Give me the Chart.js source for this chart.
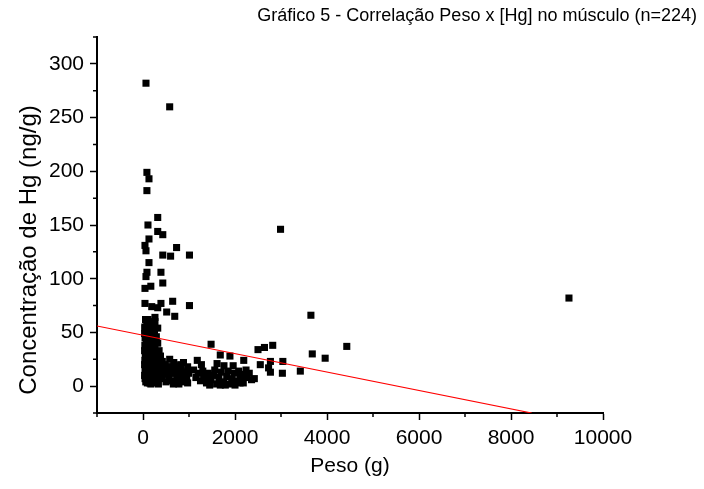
<!DOCTYPE html>
<html>
<head>
<meta charset="utf-8">
<script src="https://cdn.jsdelivr.net/npm/chart.js@4.4.0/dist/chart.umd.min.js"></script>
<style>
  body { margin: 0; background: #fff; }
  #wrap { width: 704px; height: 489px; }
</style>
</head>
<body>
<div id="wrap"><canvas id="chart1"></canvas></div>
<script>
// Peso (g) x concentração de Hg (ng/g)
const pesoG = [
  65, 580, 85, 130, 85, 320, 108, 320, 430, 130, 43, 65, 730, 430, 600, 1010, 130, 86, 390, 430,
  65, 43, 170, 43, 190, 390, 645, 515, 690, 1010, 320, 260, 110, 43, 320, 2990, 3650, 9260, 4430, 3680,
  3960, 3420, 3040, 3030, 2820, 2640, 2500, 2770, 2730, 2550, 2770, 2420, 2240, 2190, 2110, 1890, 1680, 1480, 1610, 1760,
  1960, 1790, 1270, 1180, 970, 970, 820, 670,
  // aglomerado 0-500 g
  40, 60, 90, 120, 150, 200, 250, 45, 70, 100, 140, 180, 230, 290,
  40, 65, 95, 130, 170, 210, 260, 320, 50, 80, 110, 150, 190, 240, 300, 350,
  40, 70, 100, 130, 160, 200, 250, 290, 340, 380, 45, 75, 105, 140, 175, 220, 270, 320, 370, 420,
  50, 80, 115, 150, 185, 230, 280, 330, 390, 440, 60, 95, 130, 170, 210, 260, 310, 360, 410, 470,
  55, 85, 130, 35, 35, 35, 35, 55, 90, 120, 160, 200, 240, 280, 310, 260, 180,
  75, 110, 45, 140, 165, 195, 225, 270, 335, 145, 100, 210,
  // 500-1000 g
  480, 520, 560, 600, 640, 680, 720, 760, 800, 850, 900, 950, 500, 580, 620, 700, 740, 780, 830, 880,
  930, 990, 540, 660, 720,
  // 1100-2400 g
  1150, 1200, 1250, 1320, 1380, 1420, 1480, 1540, 1600, 1650, 1700, 1750, 1820, 1880, 1930, 1990, 2050, 2120, 2180, 2250,
  2310, 2360, 1300, 1450, 1560, 1680, 1850, 2000, 2080, 2200, 1100, 1400
];
const hgNgG = [
  282, 260, 199, 193, 182, 157, 150, 144, 141, 137, 131, 126, 129, 122, 121, 122, 115, 106, 106, 96,
  102, 91, 93, 77, 74, 77, 79, 69, 65, 75, 73, 64, 62, 54, 54, 146, 66, 82, 37, 30,
  26, 14, 23, 12, 38, 36, 34, 23, 17, 20, 13, 7, 15, 24, 3, 28, 29, 39, 21, 19,
  19, 1, 20, 24, 18, 3, 20, 22,
  55, 50, 57, 52, 48, 55, 50, 45, 42, 46, 40, 44, 42, 46,
  38, 35, 38, 33, 36, 32, 37, 40, 30, 28, 31, 27, 29, 25, 30, 33,
  24, 22, 20, 23, 19, 22, 18, 21, 24, 28, 16, 14, 17, 13, 15, 12, 14, 16, 19, 23,
  10, 8, 11, 7, 9, 6, 9, 11, 13, 16, 4, 3, 5, 2, 4, 3, 5, 7, 9, 11,
  62, 60, 60, 49, 33, 20, 10, 20, 25, 18, 31, 38, 45, 26, 20, 60, 58,
  48, 40, 7, 50, 12, 46, 28, 8, 2, 3, 52, 16,
  20, 14, 8, 18, 5, 12, 3, 16, 9, 4, 13, 7, 4, 25, 12, 19, 8, 2, 14, 22,
  10, 12, 18, 2, 15,
  8, 12, 5, 9, 3, 12, 6, 10, 2, 8, 13, 4, 9, 2, 7, 12, 5, 9, 3, 8,
  12, 6, 14, 1, 15, 1, 14, 1, 14, 11, 15, 7
];

// reta de regressão (extremos)
const regX = [-1000, 8450];
const regY = [56, -25];

const chartTitle = "Gráfico 5 - Correlação Peso x [Hg] no músculo (n=224)";
const xTitle = "Peso (g)";
const yTitle = "Concentração de Hg (ng/g)";

const font = "'Liberation Sans', Arial, sans-serif";

const points = pesoG.map((p, i) => ({ x: p, y: hgNgG[i] }));
const regLine = regX.map((p, i) => ({ x: p, y: regY[i] }));

// minor ticks are shorter, drawn by hand on the scales
const minorTicks = {
  id: "minorTicks",
  afterDraw(chart) {
    const { ctx, scales: { x, y } } = chart;
    ctx.save();
    ctx.strokeStyle = "#000";
    ctx.lineWidth = 1.5;
    ctx.beginPath();
    x.ticks.forEach((t) => {
      if (t.value % 2000 !== 0) {
        const px = x.getPixelForValue(t.value);
        ctx.moveTo(px, x.top);
        ctx.lineTo(px, x.top + 4);
      }
    });
    y.ticks.forEach((t) => {
      if (t.value % 50 !== 0) {
        const py = y.getPixelForValue(t.value);
        ctx.moveTo(y.right, py);
        ctx.lineTo(y.right - 4, py);
      }
    });
    ctx.stroke();
    ctx.restore();
  },
};

// chart title and y title sit off-centre in the original, so drawn here
const textLabels = {
  id: "textLabels",
  afterDraw(chart) {
    const ctx = chart.ctx;
    ctx.save();
    ctx.fillStyle = "#000";
    ctx.font = "18px " + font;
    ctx.textAlign = "right";
    ctx.textBaseline = "alphabetic";
    ctx.fillText(chartTitle, 697, 21);

    ctx.translate(29, 250);
    ctx.rotate(-Math.PI / 2);
    ctx.font = "24px " + font;
    ctx.textAlign = "center";
    ctx.textBaseline = "middle";
    ctx.fillText(yTitle, 0, 0);
    ctx.restore();
  },
};

const config1 = {
  type: "scatter",
  data: {
    datasets: [
      {
        label: "regressão",
        data: regLine,
        showLine: true,
        borderColor: "#ff0000",
        borderWidth: 1.2,
        pointRadius: 0,
        order: 0,
      },
      {
        label: "Hg",
        data: points,
        pointStyle: "rect",
        pointRadius: 5,
        pointHoverRadius: 5,
        backgroundColor: "#000",
        borderWidth: 0,
        order: 1,
      },
    ],
  },
  options: {
    responsive: true,
    maintainAspectRatio: false,
    animation: false,
    events: [],
    layout: {
      padding: { top: 37, right: 101, bottom: 0, left: 0 },
    },
    plugins: {
      legend: { display: false },
      tooltip: { enabled: false },
      title: { display: false },
    },
    scales: {
      x: {
        type: "linear",
        min: -1000,
        max: 10000,
        afterFit: (s) => { s.height = 76; },
        ticks: {
          stepSize: 1000,
          padding: 6,
          color: "#000",
          font: { family: font, size: 21 },
          callback: (v) => (v % 2000 === 0 ? String(v) : ""),
          maxRotation: 0,
          autoSkip: false,
        },
        grid: {
          drawOnChartArea: false,
          tickLength: 7,
          tickWidth: 1.5,
          tickColor: (c) => (c.tick && c.tick.value % 2000 === 0 ? "#000" : "rgba(0,0,0,0)"),
        },
        border: { display: true, color: "#000", width: 2 },
        title: {
          display: true,
          text: xTitle,
          color: "#000",
          font: { family: font, size: 21 },
          padding: { top: 0, bottom: 10 },
        },
      },
      y: {
        type: "linear",
        min: -25,
        max: 325,
        afterFit: (s) => { s.width = 97; },
        ticks: {
          stepSize: 25,
          padding: 6,
          color: "#000",
          font: { family: font, size: 21 },
          callback: (v) => (v % 50 === 0 ? String(v) : ""),
          autoSkip: false,
        },
        grid: {
          drawOnChartArea: false,
          tickLength: 7,
          tickWidth: 1.5,
          tickColor: (c) => (c.tick && c.tick.value % 50 === 0 ? "#000" : "rgba(0,0,0,0)"),
        },
        border: { display: true, color: "#000", width: 2 },
        title: { display: false },
      },
    },
  },
  plugins: [minorTicks, textLabels],
};

const scatterChart = new Chart(document.getElementById("chart1"), config1);
</script>
</body>
</html>
